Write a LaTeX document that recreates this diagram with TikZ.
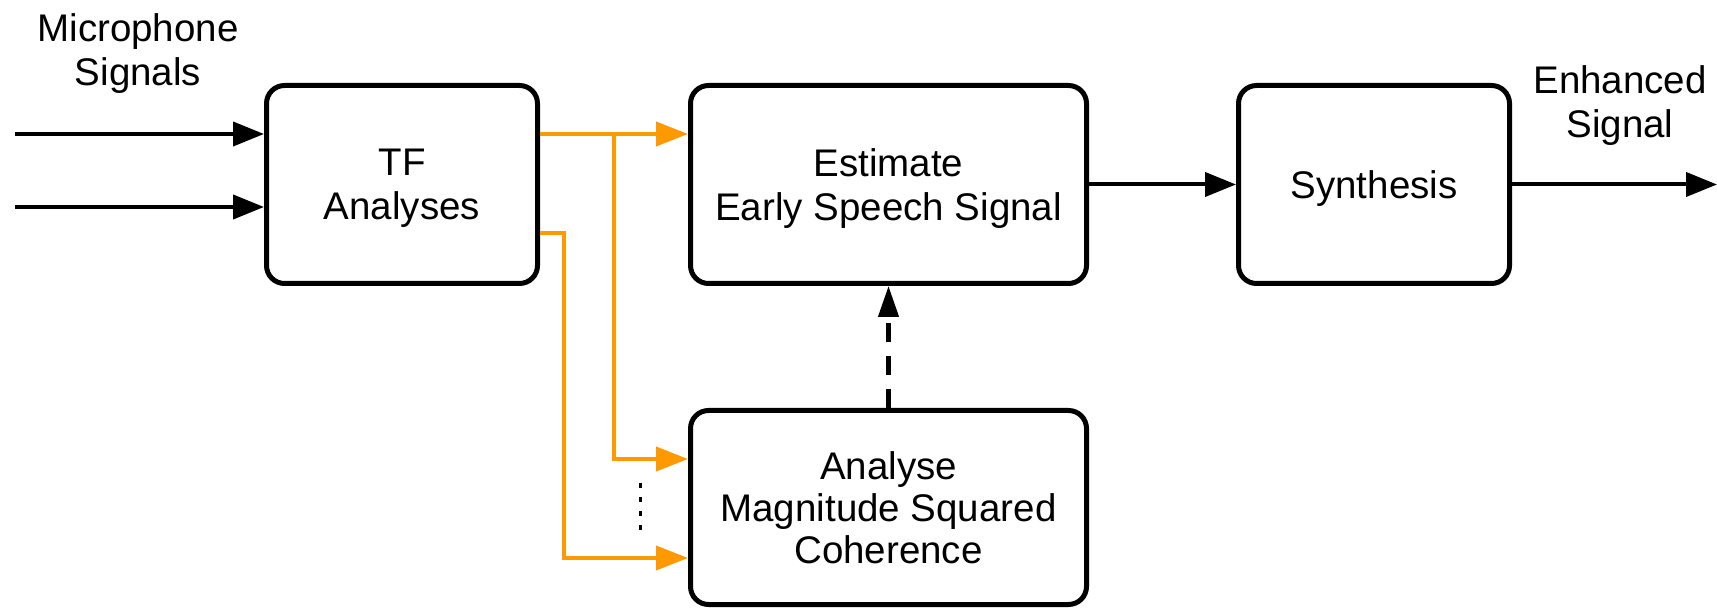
\documentclass[tikz,border=0pt]{standalone}
\usepackage{fontspec}
\setmainfont{Liberation Sans}
\usetikzlibrary{arrows.meta}
\definecolor{feed}{RGB}{255,153,0}
\begin{document}
\begin{tikzpicture}[x=0.5pt,y=-0.5pt,
  every node/.style={font=\fontsize{19.25}{22}\selectfont, inner sep=0pt, align=center},
  block/.style={draw, line width=2.5pt, rounded corners=9pt, text depth=0pt},
  sig/.style={line width=2pt, -{Triangle[length=15.5pt,width=12pt]}},
  feedline/.style={draw=feed, line width=2pt, -{Triangle[length=16pt,width=12pt]}},
  ctrl/.style={line width=2.2pt, dash pattern=on 9.5pt off 7pt, -{Triangle[length=15.5pt,width=10pt]}},
  more/.style={line width=1.5pt, dash pattern=on 2.5pt off 4.5pt}
]
\useasboundingbox (0,0) rectangle (1717,608);

% processing blocks
\node[block, minimum width=135.5pt, minimum height=99pt] (tf) at (402,184.5) {TF\\Analyses};
\node[block, minimum width=198pt, minimum height=99pt] (est) at (888.5,184.5) {Estimate\\Early Speech Signal};
\node[block, minimum width=135.5pt, minimum height=99pt] (syn) at (1374,184.5) {Synthesis};
\node[block, minimum width=198pt, minimum height=97pt, font=\fontsize{19.25}{21}\selectfont] (ana) at (888.5,507.5) {Analyse\\Magnitude Squared\\Coherence};

% signal labels
\node (mic) at (138,53.5) {Microphone\\Signals};
\node (enh) at (1620,105.5) {Enhanced\\Signal};

% microphone inputs
\coordinate (in1) at (15,134);
\coordinate (in2) at (15,207);
\draw[sig] (in1) -- (in1 -| tf.west);
\draw[sig] (in2) -- (in2 -| tf.west);

% time-frequency channels
\coordinate (split) at (614,134);
\coordinate (tap) at (564,233);
\coordinate (k1) at (614,459);
\coordinate (k2) at (564,558);
\draw[feedline] (tf.east |- split) -- (split) -- (split -| est.west);
\draw[feedline] (split) -- (k1) -- (k1 -| ana.west);
\draw[feedline] (tf.east |- tap) -- (tap) -- (k2) -- (k2 -| ana.west);

% further channels
\coordinate (dt) at (640,483);
\coordinate (db) at (640,530);
\draw[more] (dt) -- (db);

% coherence control and output path
\draw[ctrl] (ana.north) -- (est.south);
\draw[sig] (est.east) -- (syn.west);
\coordinate (out) at (1717,184.5);
\draw[sig] (syn.east) -- (out);
\end{tikzpicture}
\end{document}
